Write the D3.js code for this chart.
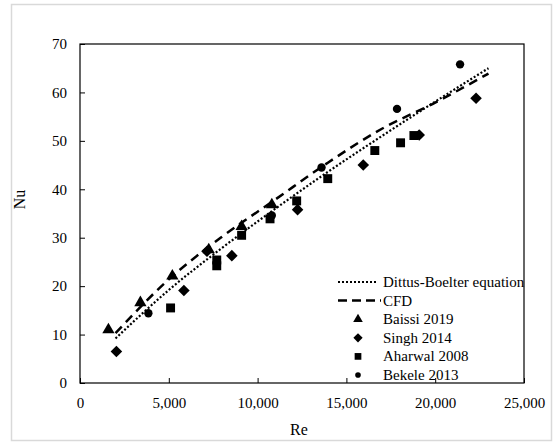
<!DOCTYPE html>
<html>
<head>
<meta charset="utf-8">
<script src="https://cdn.jsdelivr.net/npm/d3@7"></script>
<style>
  body { margin: 0; background: #fff; }
  svg text { font-family: "Liberation Serif", "Times New Roman", serif !important; fill: #000; }
</style>
</head>
<body>
<div class="nu_chart"></div>
<script>
// values
const xTicks = [0, 5000, 10000, 15000, 20000, 25000];
const yTicks = [0, 10, 20, 30, 40, 50, 60, 70];

const dbRe = [2000, 5000, 8000, 11000, 14000, 17000, 20000, 23000];
const dbNu = [9.2, 19.2, 27.9, 36.0, 43.7, 51.0, 58.1, 65.0];

const cfdRe = [2000, 5000, 8000, 11000, 14000, 17000, 20000, 23000];
const cfdNu = [10.3, 21.4, 30.2, 37.9, 45.6, 52.5, 57.9, 63.9];

const baissiRe = [1600, 3400, 5200, 7250, 9100, 10800];
const baissiNu = [11.0, 16.6, 22.1, 27.5, 32.3, 36.8];

const singhRe = [2050, 5850, 7150, 8550, 12250, 15950, 19100, 22300];
const singhNu = [6.5, 19.1, 27.2, 26.3, 35.8, 45.0, 51.2, 58.8];

const aharwalRe = [5100, 7700, 7700, 9100, 10700, 12200, 13950, 16600, 18050, 18800];
const aharwalNu = [15.5, 25.4, 24.2, 30.5, 33.9, 37.6, 42.2, 48.0, 49.6, 51.1];

const bekeleRe = [3850, 10800, 13600, 17850, 21400];
const bekeleNu = [14.4, 34.6, 44.5, 56.6, 65.8];

const legendNames = ["Dittus-Boelter equation", "CFD", "Baissi 2019", "Singh 2014", "Aharwal 2008", "Bekele 2013"];

const serif = "'Liberation Serif', 'Times New Roman', serif";
const W = 554, H = 443;
const margin = { top: 44, right: 30, bottom: 60, left: 80 };
const width = W - margin.left - margin.right;
const height = H - margin.top - margin.bottom;

const root = d3.select(".nu_chart").append("svg").attr("width", W).attr("height", H)
  .style("font-family", serif);

// outer chart border
root.append("rect")
  .attr("x", 11.5).attr("y", 4.5).attr("width", 540).attr("height", 436)
  .attr("fill", "#fff").attr("stroke", "#d9d9d9").attr("stroke-width", 1.5);

const svg = root.append("g").attr("transform", `translate(${margin.left},${margin.top})`);

const x = d3.scaleLinear().domain([0, 25000]).range([0, width]);
const y = d3.scaleLinear().domain([0, 70]).range([height, 0]);

// axes with inside ticks
svg.append("g")
  .attr("transform", `translate(0,${height})`)
  .call(d3.axisBottom(x).tickValues(xTicks).tickSizeInner(-5).tickSizeOuter(0)
    .tickPadding(14).tickFormat(d3.format(",")))
  .call(g => g.select(".domain").remove())
  .call(g => g.attr("font-family", null).style("font-family", serif))
  .call(g => g.selectAll("text").attr("font-size", 15).style("font-family", serif));

svg.append("g")
  .call(d3.axisLeft(y).tickValues(yTicks).tickSizeInner(-5).tickSizeOuter(0).tickPadding(13))
  .call(g => g.select(".domain").remove())
  .call(g => g.attr("font-family", null).style("font-family", serif))
  .call(g => g.selectAll("text").attr("font-size", 15).style("font-family", serif));

svg.append("rect")
  .attr("width", width).attr("height", height)
  .attr("fill", "none").attr("stroke", "#000").attr("stroke-width", 1.2);

// axis titles
svg.append("text")
  .attr("x", width / 2 - 3).attr("y", height + 52)
  .attr("text-anchor", "middle").attr("font-size", 16).text("Re");

svg.append("text")
  .attr("transform", `translate(${-55},${height / 2 - 14}) rotate(-90)`)
  .attr("text-anchor", "middle").attr("font-size", 16).text("Nu");

// lines
const line = d3.line().x(d => x(d[0])).y(d => y(d[1])).curve(d3.curveMonotoneX);

svg.append("path")
  .datum(dbRe.map((r, i) => [r, dbNu[i]]))
  .attr("d", line).attr("fill", "none").attr("stroke", "#000")
  .attr("stroke-width", 2.2).attr("stroke-dasharray", "2,2");

svg.append("path")
  .datum(cfdRe.map((r, i) => [r, cfdNu[i]]))
  .attr("d", line).attr("fill", "none").attr("stroke", "#000")
  .attr("stroke-width", 2.5).attr("stroke-dasharray", "9,6");

// markers
const sym = {
  triangle: d3.symbol().type(d3.symbolTriangle),
  diamond: d3.symbol().type(d3.symbolDiamond2),
  square: d3.symbol().type(d3.symbolSquare),
  circle: d3.symbol().type(d3.symbolCircle)
};

function drawSeries(re, nu, type, size) {
  svg.append("g").selectAll("path")
    .data(re.map((r, i) => [r, nu[i]]))
    .join("path")
    .attr("transform", d => `translate(${x(d[0])},${y(d[1])})`)
    .attr("d", sym[type].size(size)())
    .attr("fill", "#000");
}

drawSeries(singhRe, singhNu, "diamond", 85);
drawSeries(aharwalRe, aharwalNu, "square", 80);
drawSeries(bekeleRe, bekeleNu, "circle", 55);
drawSeries(baissiRe, baissiNu, "triangle", 65);

// legend
const legend = root.append("g").attr("transform", "translate(338,282)");
const rowH = 18.6;
legendNames.forEach((name, i) => {
  const row = legend.append("g").attr("transform", `translate(0,${i * rowH})`);
  if (i === 0) {
    row.append("line").attr("x1", 0).attr("x2", 40).attr("stroke", "#000")
      .attr("stroke-width", 2).attr("stroke-dasharray", "2,2");
  } else if (i === 1) {
    row.append("line").attr("x1", 0).attr("x2", 43).attr("stroke", "#000")
      .attr("stroke-width", 2.5).attr("stroke-dasharray", "9,5");
  } else {
    const t = ["triangle", "diamond", "square", "circle"][i - 2];
    const s = [40, 55, 45, 25][i - 2];
    row.append("path").attr("transform", "translate(20,0)")
      .attr("d", sym[t].size(s)()).attr("fill", "#000");
  }
  row.append("text").attr("x", 45).attr("y", 5).attr("font-size", 15).text(name);
});
</script>
</body>
</html>
